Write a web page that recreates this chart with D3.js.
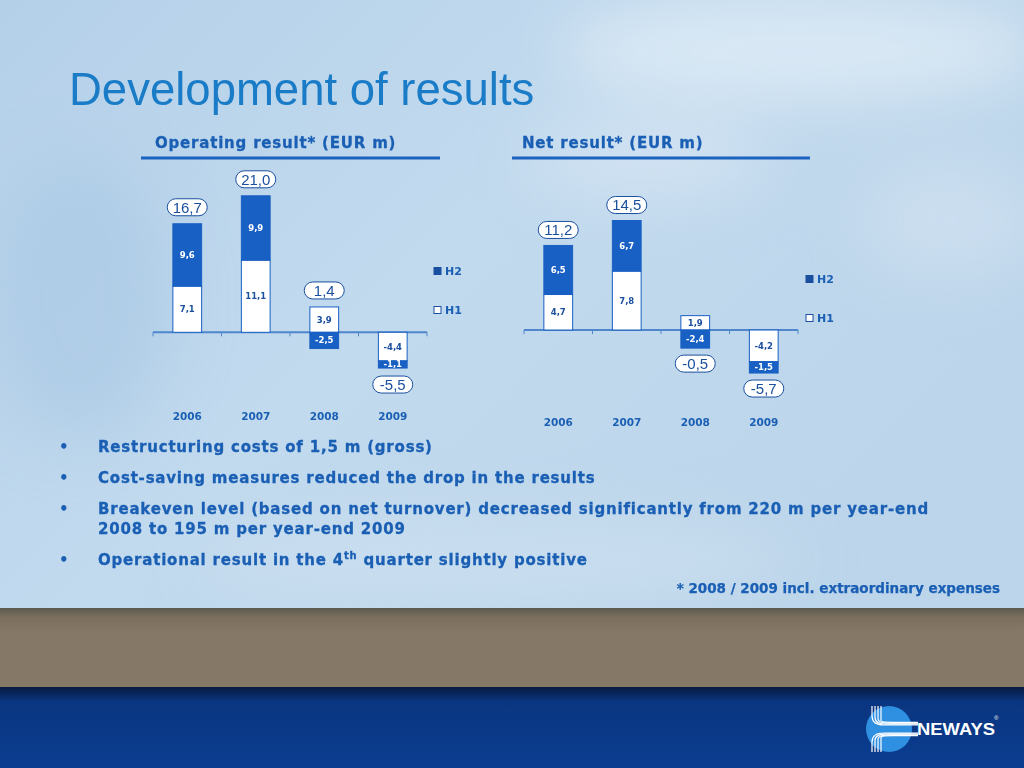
<!DOCTYPE html>
<html>
<head>
<meta charset="utf-8">
<title>Development of results</title>
<script src="https://d3js.org/d3.v7.min.js"></script>
<style>
  body { margin: 0; background: #fff; }
  svg { display: block; font-family: "Liberation Sans", Arial, sans-serif; }
  .bold { font-weight: bold; font-family: "DejaVu Sans", Verdana, sans-serif; }
  .wide { letter-spacing: 0.8px; stroke: #1a5fb4; stroke-width: 0.3px; }
</style>
</head>
<body>
<svg id="slide" width="1024" height="768"></svg>
<script>
// data
const years = ['2006', '2007', '2008', '2009'];
const opH1 = [7.1, 11.1, 3.9, -4.4];
const opH2 = [9.6, 9.9, -2.5, -1.1];
const opTotal = [16.7, 21.0, 1.4, -5.5];
const netH1 = [4.7, 7.8, 1.9, -4.2];
const netH2 = [6.5, 6.7, -2.4, -1.5];
const netTotal = [11.2, 14.5, -0.5, -5.7];
const seriesNames = ['H1', 'H2'];

const bullets = [
  ['Restructuring costs of 1,5 m (gross)'],
  ['Cost-saving measures reduced the drop in the results'],
  ['Breakeven level (based on net turnover) decreased significantly from 220 m per year-end', '2008 to 195 m per year-end 2009'],
  ['Operational result in the 4|th| quarter slightly positive']
];

const blue = '#1860c4';
const textBlue = '#1a5fb4';
const fmt = v => d3.format('.1f')(v).replace('.', ',').replace('\u2212', '-');

const svg = d3.select('#slide');
const defs = svg.append('defs');

// sky background
const sky = defs.append('linearGradient').attr('id', 'sky').attr('x1', 0).attr('y1', 0).attr('x2', 1).attr('y2', 0.6);
sky.append('stop').attr('offset', 0).attr('stop-color', '#b4d0e9');
sky.append('stop').attr('offset', 0.5).attr('stop-color', '#c2daee');
sky.append('stop').attr('offset', 1).attr('stop-color', '#bcd5ea');
svg.append('rect').attr('width', 1024).attr('height', 608).attr('fill', 'url(#sky)');

defs.append('filter').attr('id', 'blur').attr('x', '-50%').attr('y', '-50%').attr('width', '200%').attr('height', '200%')
  .append('feGaussianBlur').attr('stdDeviation', 30);
const clouds = svg.append('g').attr('filter', 'url(#blur)');
clouds.append('ellipse').attr('cx', 800).attr('cy', 50).attr('rx', 240).attr('ry', 50).attr('fill', '#e2edf7').attr('opacity', 0.75);
clouds.append('ellipse').attr('cx', 650).attr('cy', 160).attr('rx', 120).attr('ry', 40).attr('fill', '#dbe8f5').attr('opacity', 0.6);
clouds.append('ellipse').attr('cx', 950).attr('cy', 220).attr('rx', 90).attr('ry', 60).attr('fill', '#d8e6f3').attr('opacity', 0.5);
clouds.append('ellipse').attr('cx', 500).attr('cy', 560).attr('rx', 300).attr('ry', 40).attr('fill', '#d0e2f1').attr('opacity', 0.6);
clouds.append('ellipse').attr('cx', 80).attr('cy', 300).attr('rx', 90).attr('ry', 140).attr('fill', '#a9c8e4').attr('opacity', 0.6);

// brown band and blue footer
const brown = defs.append('linearGradient').attr('id', 'brown').attr('x1', 0).attr('y1', 0).attr('x2', 0).attr('y2', 1);
brown.append('stop').attr('offset', 0).attr('stop-color', '#5c5a50');
brown.append('stop').attr('offset', 0.12).attr('stop-color', '#7c6f5e');
brown.append('stop').attr('offset', 0.3).attr('stop-color', '#857866');
brown.append('stop').attr('offset', 1).attr('stop-color', '#857866');
svg.append('rect').attr('y', 608).attr('width', 1024).attr('height', 80).attr('fill', 'url(#brown)');
const foot = defs.append('linearGradient').attr('id', 'foot').attr('x1', 0).attr('y1', 0).attr('x2', 0).attr('y2', 1);
foot.append('stop').attr('offset', 0).attr('stop-color', '#061a40');
foot.append('stop').attr('offset', 0.18).attr('stop-color', '#0a3580');
foot.append('stop').attr('offset', 1).attr('stop-color', '#0b3d90');
svg.append('rect').attr('y', 687).attr('width', 1024).attr('height', 81).attr('fill', 'url(#foot)');

// logo
const logo = svg.append('g').attr('transform', 'translate(866,706)');
logo.append('circle').attr('cx', 23).attr('cy', 23).attr('r', 23).attr('fill', '#2f8fe0');
[0, 3, 6, 9].forEach(o => {
  logo.append('path')
    .attr('d', `M${6 + o},0 V${10 + o * 0.5} Q${6 + o},${19 - o * 0.3} ${18 + o},${19 - o * 0.3} H52`)
    .attr('fill', 'none').attr('stroke', '#fff').attr('stroke-width', 1.2);
  logo.append('path')
    .attr('d', `M${6 + o},46 V${36 - o * 0.5} Q${6 + o},${27 + o * 0.3} ${18 + o},${27 + o * 0.3} H52`)
    .attr('fill', 'none').attr('stroke', '#fff').attr('stroke-width', 1.2);
});
logo.append('text').attr('x', 51).attr('y', 29).attr('font-weight', 'bold')
  .attr('font-size', 17).attr('fill', '#fff').attr('textLength', 78).attr('lengthAdjust', 'spacingAndGlyphs').text('NEWAYS');
logo.append('text').attr('x', 128).attr('y', 14).attr('font-size', 6).attr('fill', '#fff').text('®');

// slide title
svg.append('text').attr('x', 69).attr('y', 105).attr('font-size', 45.5).attr('fill', '#1a7cc7')
  .text('Development of results');

function drawChart(cfg) {
  const g = svg.append('g');
  // header and underline
  g.append('text').attr('class', 'bold wide').attr('x', cfg.titleX).attr('y', 148)
    .attr('font-size', 15).attr('fill', textBlue).text(cfg.title);
  g.append('line').attr('x1', cfg.lineX[0]).attr('x2', cfg.lineX[1]).attr('y1', 158).attr('y2', 158)
    .attr('stroke', '#1c62bf').attr('stroke-width', 3);

  const x = d3.scaleBand().domain(years).range(cfg.xRange).paddingInner(0.58).paddingOuter(0.29);
  const y = d3.scaleLinear().domain(cfg.yDomain).range(cfg.yRange);

  const rows = years.map((yr, i) => ({ year: yr, H1: cfg.h1[i], H2: cfg.h2[i], total: cfg.total[i] }));
  const stacked = d3.stack().keys(seriesNames).offset(d3.stackOffsetDiverging)(rows);

  // axis line with boundary ticks
  const y0 = y(0);
  g.append('line').attr('x1', cfg.xRange[0]).attr('x2', cfg.xRange[1]).attr('y1', y0).attr('y2', y0)
    .attr('stroke', '#4f86cc').attr('stroke-width', 2);
  d3.range(years.length + 1).forEach(i => {
    const tx = cfg.xRange[0] + i * x.step();
    g.append('line').attr('x1', tx).attr('x2', tx).attr('y1', y0).attr('y2', y0 + 4)
      .attr('stroke', '#4f86cc').attr('stroke-width', 1);
  });

  // year labels through a bottom axis
  const ax = g.append('g').attr('transform', `translate(0,${y0})`)
    .call(d3.axisBottom(x).tickSize(0).tickPadding(cfg.labelPad));
  ax.select('.domain').remove();
  ax.selectAll('text').attr('class', 'bold').attr('font-size', 10.5).attr('fill', textBlue)
    .attr('font-family', '"DejaVu Sans", Verdana, sans-serif');

  // bars
  stacked.forEach(layer => {
    const isH2 = layer.key === 'H2';
    const lg = g.append('g');
    lg.selectAll('rect').data(layer).join('rect')
      .attr('x', d => x(d.data.year))
      .attr('width', x.bandwidth())
      .attr('y', d => y(Math.max(d[0], d[1])))
      .attr('height', d => Math.abs(y(d[0]) - y(d[1])))
      .attr('fill', isH2 ? blue : '#fff')
      .attr('stroke', blue).attr('stroke-width', 1);
    lg.selectAll('text').data(layer).join('text')
      .attr('class', 'bold')
      .attr('x', d => x(d.data.year) + x.bandwidth() / 2)
      .attr('y', d => (y(d[0]) + y(d[1])) / 2)
      .attr('dy', '0.35em').attr('text-anchor', 'middle')
      .attr('font-size', 8.5).attr('fill', isH2 ? '#fff' : '#1a4f9e')
      .text(d => fmt(d.data[layer.key]));
  });

  // total labels in pills
  const ends = rows.map((r, i) => {
    const top = d3.max(stacked, s => s[i][1]);
    const bottom = d3.min(stacked, s => s[i][0]);
    return r.total >= 0 ? y(top) - cfg.pillGap : y(bottom) + cfg.pillGap;
  });
  const pills = g.selectAll('.pill').data(rows).join('g').attr('class', 'pill')
    .attr('transform', (d, i) => `translate(${x(d.year) + x.bandwidth() / 2},${ends[i]})`);
  pills.append('rect').attr('x', -20).attr('y', -8.5).attr('width', 40).attr('height', 17).attr('rx', 8.5)
    .attr('fill', '#fff').attr('stroke', '#1a4f9e').attr('stroke-width', 1);
  pills.append('text').attr('text-anchor', 'middle').attr('dy', '0.36em')
    .attr('font-size', 15).attr('fill', '#1a4f9e').text(d => fmt(d.total));

  // legend
  const leg = g.selectAll('.leg').data(['H2', 'H1']).join('g').attr('class', 'leg')
    .attr('transform', (d, i) => `translate(${cfg.legend[0]},${cfg.legend[1] + i * 39})`);
  leg.append('rect').attr('x', 0).attr('y', -3.5).attr('width', 7).attr('height', 7)
    .attr('fill', d => d === 'H2' ? '#1a4fa0' : '#fff').attr('stroke', '#1a4fa0').attr('stroke-width', 1);
  leg.append('text').attr('class', 'bold').attr('x', 11).attr('dy', '0.36em')
    .attr('font-size', 11).attr('fill', textBlue).text(d => d);
}

drawChart({
  title: 'Operating result* (EUR m)', titleX: 155, lineX: [141, 440],
  h1: opH1, h2: opH2, total: opTotal,
  xRange: [153, 427], yDomain: [-10, 25], yRange: [332.3 + 65, 332.3 - 162.5],
  labelPad: 80, pillGap: 16.5, legend: [434, 271]
});
drawChart({
  title: 'Net result* (EUR m)', titleX: 522, lineX: [512, 810],
  h1: netH1, h2: netH2, total: netTotal,
  xRange: [524, 798], yDomain: [-8, 20], yRange: [330 + 60.4, 330 - 151],
  labelPad: 89, pillGap: 15.5, legend: [806, 279]
});

// bullet list
const lines = svg.append('g').attr('class', 'bold').attr('font-size', 15).attr('fill', textBlue);
let by = 452;
bullets.forEach(b => {
  lines.append('text').attr('x', 59).attr('y', by).attr('font-size', 15).text('•');
  b.forEach((ln, j) => {
    const t = lines.append('text').attr('class', 'bold wide').attr('x', 98).attr('y', by + j * 20);
    ln.split('|').forEach((part, k) => {
      const sp = t.append('tspan').text(part);
      if (k === 1) sp.attr('font-size', 10).attr('dy', -6);
      if (k === 2) sp.attr('dy', 6);
    });
  });
  by += 31 + (b.length - 1) * 20;
});

svg.append('text').attr('class', 'bold').attr('x', 1000).attr('y', 593).attr('text-anchor', 'end')
  .attr('font-size', 13.5).attr('stroke', textBlue).attr('stroke-width', 0.25)
  .attr('fill', textBlue).text('* 2008 / 2009 incl. extraordinary expenses');
</script>
</body>
</html>
